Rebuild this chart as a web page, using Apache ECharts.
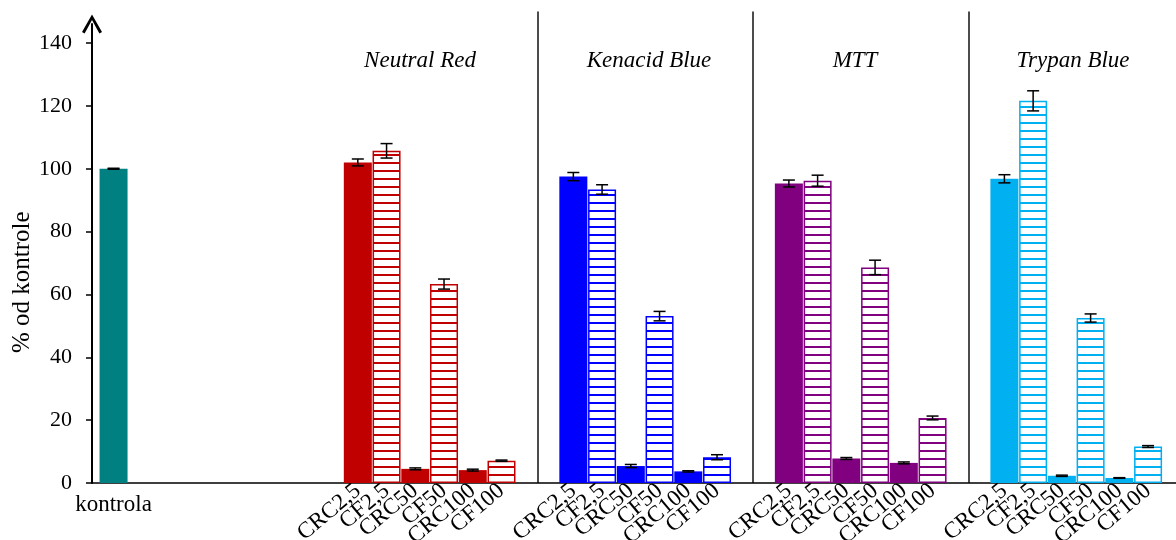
<!DOCTYPE html>
<html><head><meta charset="utf-8">
<script src="https://cdn.jsdelivr.net/npm/echarts@6/dist/echarts.min.js"></script>
<style>html,body{margin:0;padding:0;background:#fff}#c{width:1176px;height:540px}</style>
</head><body><div id="c"></div>
<script>
// ---- data ----
const groupNames = ['Neutral Red', 'Kenacid Blue', 'MTT', 'Trypan Blue'];
const treatments = ['CRC2,5', 'CF2,5', 'CRC50', 'CF50', 'CRC100', 'CF100'];
const hatchedTreatments = [false, true, false, true, false, true];
const groupColors = ['#C00000', '#0000FF', '#800080', '#00B0F0'];
const controlLabel = 'kontrola';
const controlColor = '#008080';
const controlValue = 100;
const controlError = 0.15;
const neutralRed = [102.0, 105.7, 4.5, 63.3, 4.1, 7.1];
const neutralRedErr = [1.1, 2.3, 0.3, 1.6, 0.3, 0.2];
const kenacidBlue = [97.5, 93.4, 5.4, 53.1, 3.7, 8.2];
const kenacidBlueErr = [1.3, 1.5, 0.5, 1.5, 0.2, 0.8];
const mtt = [95.3, 96.2, 7.8, 68.6, 6.4, 20.7];
const mttErr = [1.1, 1.75, 0.3, 2.3, 0.3, 0.6];
const trypanBlue = [96.8, 121.6, 2.3, 52.5, 1.6, 11.6];
const trypanBlueErr = [1.3, 3.2, 0.2, 1.3, 0.1, 0.3];
const yTicks = [0, 20, 40, 60, 80, 100, 120, 140];

const groupValues = [neutralRed, kenacidBlue, mtt, trypanBlue];
const groupErrors = [neutralRedErr, kenacidBlueErr, mttErr, trypanBlueErr];

// ---- layout on a half-slot category axis ----
const N_CATS = 76, CONTROL_IDX = 1, FIRST_GROUP_IDX = 18, GROUP_STEP = 15, BAR_STEP = 2;
const separatorIdx = [31, 46, 61];
const serif = "'Liberation Serif', 'Times New Roman', serif";

function hatch(color) {
  const c = document.createElement('canvas');
  c.width = 8; c.height = 8;
  const x = c.getContext('2d');
  x.fillStyle = '#fff'; x.fillRect(0, 0, 8, 8);
  x.fillStyle = color; x.fillRect(0, 2, 8, 2);
  return { image: c, repeat: 'repeat' };
}

const categories = new Array(N_CATS).fill('');
const barData = new Array(N_CATS).fill('-');
const errData = [];
categories[CONTROL_IDX] = controlLabel;
barData[CONTROL_IDX] = { value: controlValue, itemStyle: { color: controlColor } };
errData.push([CONTROL_IDX, controlValue - controlError, controlValue + controlError]);
groupValues.forEach((vals, g) => {
  vals.forEach((v, i) => {
    const idx = FIRST_GROUP_IDX + g * GROUP_STEP + i * BAR_STEP;
    categories[idx] = treatments[i];
    const col = groupColors[g];
    barData[idx] = {
      value: v,
      itemStyle: hatchedTreatments[i]
        ? { color: hatch(col), borderColor: col, borderWidth: 1.5 }
        : { color: col }
    };
    const e = groupErrors[g][i];
    errData.push([idx, v - e, v + e]);
  });
});

const chart = echarts.init(document.getElementById('c'));
chart.setOption({
  animation: false,
  backgroundColor: '#fff',
  grid: [
    { left: 92, top: 11.6, width: 1092, height: 471.4, outerBoundsMode: 'none', containLabel: false },
    { left: 92, top: 24, width: 10, height: 459, outerBoundsMode: 'none', containLabel: false }
  ],
  xAxis: [
    {
      type: 'category', gridIndex: 0, data: categories, boundaryGap: true, position: 'bottom',
      axisLine: { lineStyle: { color: '#000', width: 1.5 } },
      axisTick: { show: false },
      axisLabel: {
        interval: 0, rotate: 40, margin: 5, hideOverlap: false,
        formatter: (v) => (v === controlLabel ? '' : v),
        fontFamily: serif, fontSize: 23, color: '#000'
      },
      splitLine: {
        show: true,
        interval: (idx) => separatorIdx.includes(idx),
        lineStyle: { color: '#111', width: 1.5, type: 'solid' }
      }
    },
    {
      type: 'category', gridIndex: 0, data: categories, boundaryGap: true, position: 'bottom',
      axisLine: { show: false }, axisTick: { show: false }, splitLine: { show: false },
      axisLabel: {
        interval: 0, rotate: 0, margin: 10,
        formatter: (v) => (v === controlLabel ? v : ''),
        fontFamily: serif, fontSize: 23, color: '#000'
      }
    },
    { type: 'value', gridIndex: 1, show: false, min: 0, max: 1 }
  ],
  yAxis: [
    {
      type: 'value', gridIndex: 0, min: 0, max: 150,
      axisLine: { show: false },
      axisTick: { show: true, length: 6, customValues: yTicks, lineStyle: { color: '#000', width: 1.5 } },
      axisLabel: { customValues: yTicks, margin: 20, fontFamily: serif, fontSize: 22, color: '#000' },
      splitLine: { show: false },
      name: '% od kontrole', nameLocation: 'middle', nameRotate: 90, nameGap: 57,
      nameMoveOverlap: false,
      nameTextStyle: { fontFamily: serif, fontSize: 25, color: '#000', padding: [0, 70, 0, 0] }
    },
    {
      type: 'value', gridIndex: 1, min: 0, max: 1,
      axisLine: {
        show: true, lineStyle: { color: '#000', width: 2 },
        symbol: ['none', 'path://M0,17.5 L10,0 L20,17.5 L17.4,19 L10,5.6 L2.6,19 Z'],
        symbolSize: [21, 19]
      },
      axisTick: { show: false }, axisLabel: { show: false }, splitLine: { show: false }
    }
  ],
  graphic: groupNames.map((name, g) => ({
    type: 'text',
    x: [420, 649, 855, 1073][g], y: 61,
    style: {
      text: name, fontFamily: serif, fontStyle: 'italic', fontSize: 23, fill: '#000',
      textAlign: 'center', textVerticalAlign: 'middle'
    }
  })),
  series: [
    {
      type: 'bar', xAxisIndex: 0, yAxisIndex: 0, data: barData, barWidth: 28
    },
    {
      type: 'custom', xAxisIndex: 0, yAxisIndex: 0, data: errData, encode: { x: 0, y: [1, 2] }, z: 5,
      renderItem: function (params, api) {
        const x = api.value(0);
        const lo = api.coord([x, api.value(1)]);
        const hi = api.coord([x, api.value(2)]);
        const w = 6;
        const style = { stroke: '#000', lineWidth: 1.5 };
        return {
          type: 'group', children: [
            { type: 'line', shape: { x1: lo[0], y1: lo[1], x2: hi[0], y2: hi[1] }, style },
            { type: 'line', shape: { x1: lo[0] - w, y1: lo[1], x2: lo[0] + w, y2: lo[1] }, style },
            { type: 'line', shape: { x1: hi[0] - w, y1: hi[1], x2: hi[0] + w, y2: hi[1] }, style }
          ]
        };
      }
    }
  ]
});
</script></body></html>
